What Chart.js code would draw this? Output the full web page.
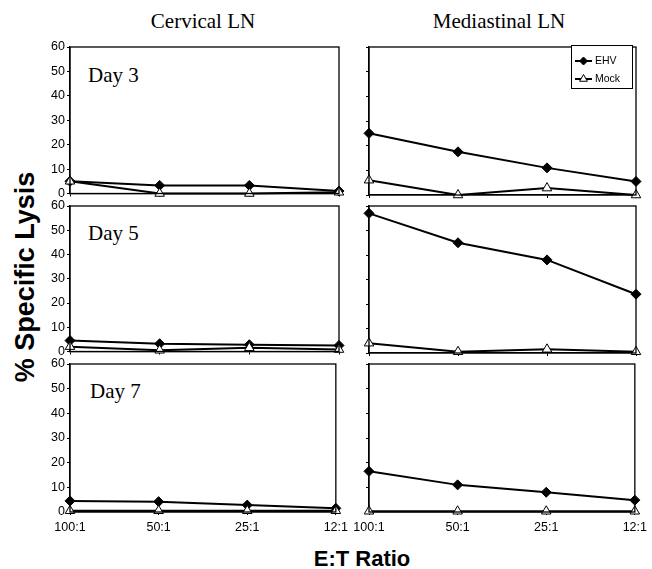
<!DOCTYPE html>
<html>
<head>
<meta charset="utf-8">
<script src="https://cdn.jsdelivr.net/npm/chart.js@4.4.1/dist/chart.umd.min.js"></script>
<style>
    body { margin: 0; background: #fff; }
    #wrap { position: relative; width: 652px; height: 569px; overflow: hidden; }
    .panel { position: absolute; }
    .label { position: absolute; color: #000; white-space: nowrap; }
    .colTitle { font-family: "Liberation Serif", serif; font-size: 21px; transform: translateX(-50%); }
    .day { font-family: "Liberation Serif", serif; font-size: 21px; }
    .axisTitle { font-family: "Liberation Sans", Arial, sans-serif; font-weight: bold; }
</style>
</head>
<body>
<div id="wrap">
    <div class="label colTitle" style="left:203px; top:9px;">Cervical LN</div>
    <div class="label colTitle" style="left:499px; top:9px;">Mediastinal LN</div>
    <div class="label day" style="left:88px; top:63px;">Day 3</div>
    <div class="label day" style="left:88px; top:221px;">Day 5</div>
    <div class="label day" style="left:90px; top:379px;">Day 7</div>
    <div class="label axisTitle" style="font-size:27px; left:25px; top:277px; transform: translate(-50%,-50%) rotate(-90deg);">% Specific Lysis</div>
    <div class="label axisTitle" style="font-size:22px; left:362px; top:546px; transform: translateX(-50%);">E:T Ratio</div>
</div>

<script>
// =========================
// DATOS
// =========================
const ratios = ["100:1", "50:1", "25:1", "12:1"];

const cervicalDay3EHV = [5, 3.3, 3.3, 1];
const cervicalDay3Mock = [5, 0, 0, 0.5];
const mediastinalDay3EHV = [25, 17.5, 11, 5.5];
const mediastinalDay3Mock = [6, 0, 2.8, 0];

const cervicalDay5EHV = [4.5, 3.2, 2.8, 2.5];
const cervicalDay5Mock = [2, 0.5, 1.5, 0.8];
const mediastinalDay5EHV = [57, 45, 38, 24];
const mediastinalDay5Mock = [4, 0.5, 1.5, 0.5];

const cervicalDay7EHV = [4.5, 4.2, 2.8, 1.5];
const cervicalDay7Mock = [0.5, 0.5, 0.5, 0.5];
const mediastinalDay7EHV = [16.5, 11, 8, 4.8];
const mediastinalDay7Mock = [0.3, 0.3, 0.3, 0.3];

const yMin = 0;
const yMax = 60;
const yStep = 10;

// =========================
// LAYOUT
// =========================
const rowTops = [47, 206, 364];
const rowBottoms = [195, 353, 512];

const panels = [
    { row: 0, col: 0, ehv: cervicalDay3EHV, mock: cervicalDay3Mock },
    { row: 0, col: 1, ehv: mediastinalDay3EHV, mock: mediastinalDay3Mock, legend: true },
    { row: 1, col: 0, ehv: cervicalDay5EHV, mock: cervicalDay5Mock },
    { row: 1, col: 1, ehv: mediastinalDay5EHV, mock: mediastinalDay5Mock },
    { row: 2, col: 0, ehv: cervicalDay7EHV, mock: cervicalDay7Mock },
    { row: 2, col: 1, ehv: mediastinalDay7EHV, mock: mediastinalDay7Mock }
];

const tickFont = { family: "'Liberation Sans', Arial, sans-serif", size: 12.5 };

// marco del área de datos
const framePlugin = {
    id: "frame",
    afterDraw(chart) {
        const a = chart.chartArea;
        const ctx = chart.ctx;
        ctx.save();
        ctx.strokeStyle = "#000";
        ctx.lineWidth = 1.3;
        ctx.strokeRect(a.left, a.top, a.right - a.left, a.bottom - a.top);
        ctx.restore();
    }
};

// leyenda dibujada dentro del panel
const legendPlugin = {
    id: "boxLegend",
    afterDraw(chart) {
        if (!chart.options.plugins.boxLegend.show) return;
        const a = chart.chartArea;
        const ctx = chart.ctx;
        const x0 = a.right - 65;
        const y0 = a.top - 2;
        ctx.save();
        ctx.fillStyle = "#fff";
        ctx.fillRect(x0, y0, 61, 43);
        ctx.strokeStyle = "#000";
        ctx.lineWidth = 1;
        ctx.strokeRect(x0 + 0.5, y0 + 0.5, 61, 43);

        const rows = [
            { label: "EHV", style: "rectRot", fill: "#000", r: 4, y: y0 + 16 },
            { label: "Mock", style: "triangle", fill: "#fff", r: 4.5, y: y0 + 34 }
        ];
        rows.forEach(item => {
            ctx.strokeStyle = "#000";
            ctx.lineWidth = 2;
            ctx.beginPath();
            ctx.moveTo(x0 + 4, item.y);
            ctx.lineTo(x0 + 21, item.y);
            ctx.stroke();
            ctx.fillStyle = item.fill;
            ctx.lineWidth = 1;
            Chart.helpers.drawPoint(ctx, { pointStyle: item.style, radius: item.r, borderWidth: 1 }, x0 + 12.5, item.y);
            ctx.fillStyle = "#000";
            ctx.font = "10.5px 'Liberation Sans', Arial, sans-serif";
            ctx.textBaseline = "middle";
            ctx.fillText(item.label, x0 + 24, item.y);
        });
        ctx.restore();
    }
};

// =========================
// CHARTS
// =========================
const wrap = document.getElementById("wrap");

panels.forEach(p => {
    const isBottom = p.row === 2;
    const left = p.col === 0 ? 0 : 339;
    const width = p.col === 0 ? 353 : 313;
    const padRight = p.col === 0 ? 14 : 16;
    const yWidth = p.col === 0 ? 70 : 30;
    const xHeight = isBottom ? 28 : 8;
    const top = rowTops[p.row] - 10;
    const height = rowBottoms[p.row] - rowTops[p.row] + 10 + xHeight;

    const div = document.createElement("div");
    div.className = "panel";
    div.style.left = left + "px";
    div.style.top = top + "px";
    const canvas = document.createElement("canvas");
    canvas.width = width;
    canvas.height = height;
    canvas.style.width = width + "px";
    canvas.style.height = height + "px";
    div.appendChild(canvas);
    wrap.appendChild(div);

    new Chart(canvas, {
        type: "line",
        data: {
            labels: ratios,
            datasets: [
                {
                    label: "EHV",
                    data: p.ehv,
                    order: 1,
                    borderColor: "#000",
                    borderWidth: 2,
                    pointStyle: "rectRot",
                    pointRadius: 5,
                    pointBackgroundColor: "#000",
                    pointBorderColor: "#000",
                    pointBorderWidth: 1,
                    tension: 0,
                    clip: false
                },
                {
                    label: "Mock",
                    data: p.mock,
                    order: 0,
                    borderColor: "#000",
                    borderWidth: 2,
                    pointStyle: "triangle",
                    pointRadius: 5.5,
                    pointBackgroundColor: "#fff",
                    pointBorderColor: "#000",
                    pointBorderWidth: 1,
                    tension: 0,
                    clip: false
                }
            ]
        },
        options: {
            responsive: false,
            animation: false,
            devicePixelRatio: 1,
            layout: { padding: { top: 10, right: padRight, left: 0, bottom: 0 } },
            plugins: {
                legend: { display: false },
                tooltip: { enabled: false },
                boxLegend: { show: !!p.legend }
            },
            scales: {
                x: {
                    offset: false,
                    grid: { drawOnChartArea: false, tickLength: 3, color: "#000" },
                    border: { color: "#000", width: 1.3 },
                    ticks: {
                        display: isBottom,
                        color: "#000",
                        font: tickFont,
                        padding: 5,
                        maxRotation: 0
                    },
                    afterFit: scale => { scale.height = xHeight; }
                },
                y: {
                    min: yMin,
                    max: yMax,
                    grid: { drawOnChartArea: false, tickLength: 3, color: "#000" },
                    border: { color: "#000", width: 1.3 },
                    ticks: {
                        display: p.col === 0,
                        stepSize: yStep,
                        color: "#000",
                        font: tickFont,
                        padding: 2
                    },
                    afterFit: scale => { scale.width = yWidth; }
                }
            }
        },
        plugins: [framePlugin, legendPlugin]
    });
});
</script>
</body>
</html>
